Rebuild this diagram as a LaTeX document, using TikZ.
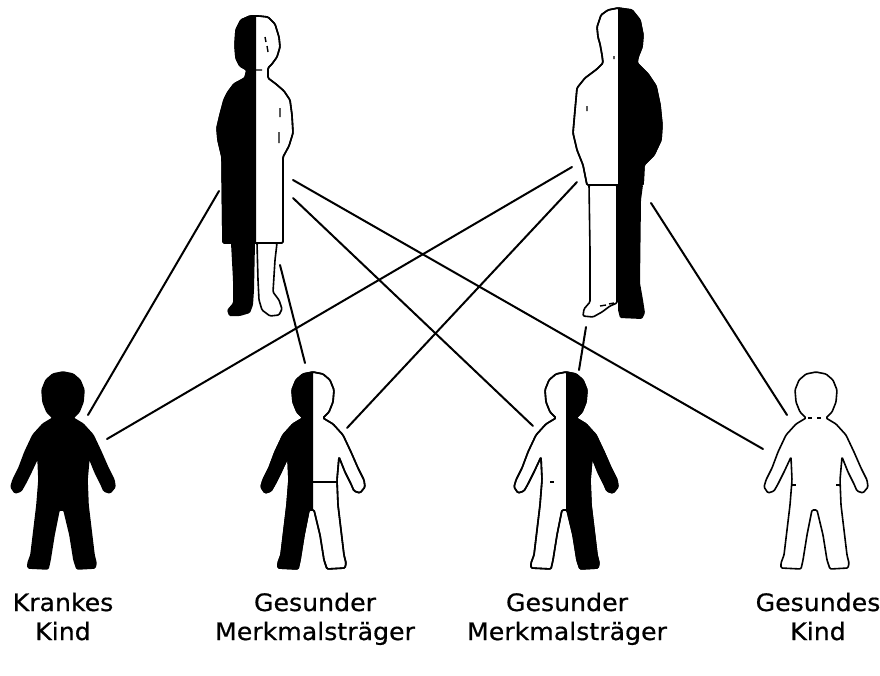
\documentclass[tikz,border=0pt]{standalone}
\usepackage{fontspec}
\newfontfamily\labelfont[FakeStretch=1.05, FakeBold=0.6]{DejaVu Sans}

% outline of a child, centred on its own vertical axis, feet at about v=209
\newcommand\kidoutline{(0,12) -- (10,14) -- (17,20) -- (21,30) -- (20,42) -- (16,52) -- (10,58) -- (20,64) -- (30,75) -- (38,92) -- (45,108) -- (51,120) -- (52,127) -- (47,133) -- (41,131) -- (38,124) -- (32,112) -- (26,97) -- (24,120) -- (25,145) -- (28,170) -- (31,195) -- (33,203) -- (32,208) -- (14,209) -- (11,200) -- (7,175) -- (1,150) -- (-4,150) -- (-9,175) -- (-13,200) -- (-15,209) -- (-35,208) -- (-35,203) -- (-32,195) -- (-29,170) -- (-26,145) -- (-24,120) -- (-25,97) -- (-32,112) -- (-38,124) -- (-42,131) -- (-48,133) -- (-52,127) -- (-50,120) -- (-44,108) -- (-38,92) -- (-30,75) -- (-20,64) -- (-10,58) -- (-16,52) -- (-20,42) -- (-21,30) -- (-17,20) -- (-10,14) -- cycle}

% mother: head and coat
\newcommand\womanbody{(259,16) -- (268,17) -- (275,24) -- (279,37) -- (280,47) -- (277,57) -- (272,64) -- (268,68) -- (268,78) -- (276,84) -- (284,91) -- (290,100) -- (292,115) -- (293,133) -- (289,146) -- (283,157) -- (283,243) -- (223,243) -- (222,157) -- (218,140) -- (217,128) -- (220,115) -- (224,100) -- (228,92) -- (234,84) -- (245,78) -- (247,70) -- (240,66) -- (236,58) -- (235,45) -- (236,30) -- (241,20) -- (250,16) -- cycle}

% father: head and jacket
\newcommand\manbody{(618,8) -- (632,10) -- (640,20) -- (643,35) -- (642,47) -- (638,57) -- (637,63) -- (648,74) -- (656,86) -- (660,105) -- (662,125) -- (661,140) -- (654,155) -- (644,165) -- (643,185) -- (587,185) -- (583,165) -- (577,150) -- (573,133) -- (575,110) -- (577,88) -- (585,78) -- (597,69) -- (603,63) -- (602,55) -- (600,44) -- (598,37) -- (597,27) -- (601,15) -- (608,10) -- cycle}

\begin{document}
\begin{tikzpicture}[x=1pt,y=-1pt,
  figline/.style={line width=1.6pt, line join=round, rounded corners=1.2pt},
  detail/.style={line width=1.4pt},
  link/.style={line width=2pt, line cap=round},
  caption/.style={font=\labelfont\fontsize{24}{29}\selectfont, align=center, anchor=base, inner sep=0pt}]
\useasboundingbox[fill=white] (0,0) rectangle (880,675);

% ---- end points of the inheritance lines ----
\coordinate (m-k1) at (219,191);
\coordinate (m-k2) at (280,265);
\coordinate (m-k3) at (293,198);
\coordinate (m-k4) at (293,180);
\coordinate (f-k1) at (572,167);
\coordinate (f-k2) at (577,182);
\coordinate (f-k3) at (586,327);
\coordinate (f-k4) at (651,203);
\coordinate (k1-m) at (88,415);
\coordinate (k1-f) at (107,439);
\coordinate (k2-m) at (305,363);
\coordinate (k2-f) at (347,428);
\coordinate (k3-m) at (533,426);
\coordinate (k3-f) at (579,370);
\coordinate (k4-m) at (763,449);
\coordinate (k4-f) at (787,415);

\draw[link] (m-k1) -- (k1-m);
\draw[link] (m-k2) -- (k2-m);
\draw[link] (m-k3) -- (k3-m);
\draw[link] (m-k4) -- (k4-m);
\draw[link] (f-k1) -- (k1-f);
\draw[link] (f-k2) -- (k2-f);
\draw[link] (f-k3) -- (k3-f);
\draw[link] (f-k4) -- (k4-f);

% ---- mother: left half black ----
\filldraw[figline, fill=white] \womanbody;
\begin{scope}
  \clip (150,0) rectangle (256,250);
  \fill[figline] \womanbody;
\end{scope}
\draw[figline] \womanbody;
\fill[figline] (231,243) -- (255,243) -- (254,290) -- (253,305) -- (250,313) -- (240,316) -- (229,316) -- (227,310) -- (233,303) -- (233,280) -- cycle;
\filldraw[figline, fill=white] (257,243) -- (277,243) -- (275,260) -- (273,292) -- (279,300) -- (282,309) -- (279,315) -- (270,316) -- (262,310) -- (259,300) -- (258,280) -- cycle;
\draw[detail] (265,37) -- (266,42) (267,46) -- (268,52) (256,70) -- (262,70)
  (280,108) -- (280,117) (279,132) -- (279,143);

% ---- father: right half black ----
\filldraw[figline, fill=white] \manbody;
\begin{scope}
  \clip (618,0) rectangle (700,200);
  \fill[figline] \manbody;
\end{scope}
\draw[figline] \manbody;
\fill[figline] (618,185) -- (643,185) -- (641,200) -- (640,283) -- (643,300) -- (645,313) -- (642,319) -- (620,318) -- (618,310) -- cycle;
\filldraw[figline, fill=white] (589,185) -- (617,185) -- (617,303) -- (610,306) -- (602,312) -- (593,317) -- (583,316) -- (584,309) -- (590,302) -- (590,250) -- cycle;
\draw[detail] (587,106) -- (587,111) (614,56) -- (614,59) (600,306) -- (606,305) (609,304) -- (614,303);

% ---- child 1: affected, all black ----
\begin{scope}[shift={(63,360)}]
  \filldraw[figline] \kidoutline;
\end{scope}

% ---- child 2: carrier, left half black ----
\begin{scope}[shift={(313,360)}]
  \filldraw[figline, fill=white] \kidoutline;
  \begin{scope}
    \clip (-60,0) rectangle (0,220);
    \fill[figline] \kidoutline;
  \end{scope}
  \draw[figline] \kidoutline;
  \draw[detail] (0,122) -- (24,122);
\end{scope}

% ---- child 3: carrier, right half black ----
\begin{scope}[shift={(566,360)}]
  \filldraw[figline, fill=white] \kidoutline;
  \begin{scope}
    \clip (0,0) rectangle (60,220);
    \fill[figline] \kidoutline;
  \end{scope}
  \draw[figline] \kidoutline;
  \draw[detail] (-16,122) -- (-12,122);
\end{scope}

% ---- child 4: healthy, all white ----
\begin{scope}[shift={(816,360)}]
  \filldraw[figline, fill=white] \kidoutline;
  \draw[detail] (-8,58) -- (-4,58) (1,58) -- (5,58) (-24,125) -- (-20,125) (20,125) -- (24,125);
\end{scope}

% ---- captions ----
\node[caption] (cap1) at (63,640) {Krankes\\Kind};
\node[caption] (cap2) at (315,640) {Gesunder\\Merkmalsträger};
\node[caption] (cap3) at (567,640) {Gesunder\\Merkmalsträger};
\node[caption] (cap4) at (818,640) {Gesundes\\Kind};
\end{tikzpicture}
\end{document}
